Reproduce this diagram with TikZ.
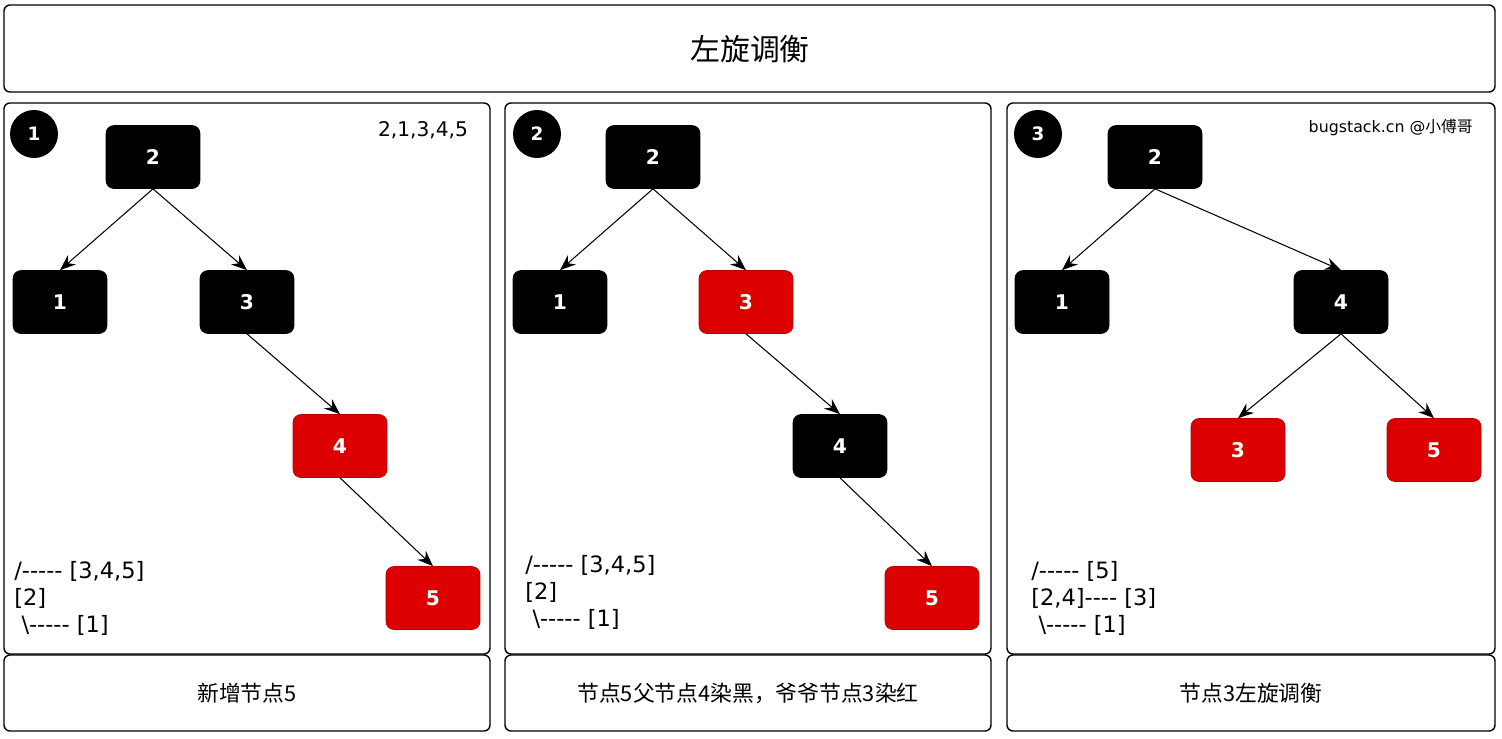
\documentclass[tikz,border=0pt]{standalone}
\usepackage{fontspec}
\setmainfont{DejaVu Sans}
\newfontfamily\cjk{Noto Sans CJK SC}
\usepackage{tikz}
\usetikzlibrary{arrows.meta,shapes,positioning}

\definecolor{redfill}{HTML}{DD0000}
\definecolor{redline}{HTML}{B20000}
\newcommand{\dsh}{-\kern0pt}

\tikzset{
  box/.style={draw=black,line width=0.8pt,rounded corners=0.12cm},
  blk/.style={draw=black,fill=black,text=white,rounded corners=0.16cm,
    minimum width=1.88cm,minimum height=1.26cm,inner sep=0pt,
    font=\bfseries\fontsize{11.5}{11.5}\selectfont},
  rd/.style={blk,draw=redline,fill=redfill},
  num/.style={circle,fill=black,text=white,minimum size=0.96cm,inner sep=0pt,
    font=\bfseries\fontsize{10.5}{10.5}\selectfont},
  tree/.style={anchor=north west,align=left,inner sep=0pt,
    font=\fontsize{12.8}{15.3}\selectfont},
  captext/.style={font=\cjk\fontsize{12.4}{12.4}\selectfont}
}

\begin{document}
\begin{tikzpicture}[x=0.02cm,y=-0.02cm]
  \useasboundingbox (0,0) rectangle (1502,738);

  % frames
  \draw[box] (4,5) rectangle (1495,92);
  \draw[box] (4,103) rectangle (490,654);
  \draw[box] (4,655) rectangle (490,731);
  \draw[box] (505,103) rectangle (991,654);
  \draw[box] (505,655) rectangle (991,731);
  \draw[box] (1007,103) rectangle (1495,654);
  \draw[box] (1007,655) rectangle (1495,731);

  \node[font=\cjk\fontsize{17}{17}\selectfont] (title) at (750,49) {左旋调衡};

  % step numbers
  \node[num] (n1) at (34,134) {1};
  \node[num] (n2) at (537,134) {2};
  \node[num] (n3) at (1038,134) {3};

  % step 1
  \begin{scope}[every node/.style={blk}]
    \node (a2) at (153,157) {2};
    \node (a1) at (60,302) {1};
    \node (a3) at (247,302) {3};
    \node[rd] (a4) at (340,446) {4};
    \node[rd] (a5) at (433,598) {5};
  \end{scope}

  % step 2
  \begin{scope}[every node/.style={blk}]
    \node (b2) at (653,157) {2};
    \node (b1) at (560,302) {1};
    \node[rd] (b3) at (746,302) {3};
    \node (b4) at (840,446) {4};
    \node[rd] (b5) at (932,598) {5};
  \end{scope}

  % step 3
  \begin{scope}[every node/.style={blk}]
    \node (c2) at (1155,157) {2};
    \node (c1) at (1062,302) {1};
    \node (c4) at (1341,302) {4};
    \node[rd] (c3) at (1238,450) {3};
    \node[rd] (c5) at (1434,450) {5};
  \end{scope}

  \begin{scope}[every edge/.style={draw=black,line width=0.6pt,-{Stealth[length=9pt,width=7pt,inset=3pt]}}]
    \path (a2.south) edge (a1.north);
    \path (a2.south) edge (a3.north);
    \path (a3.south) edge (a4.north);
    \path (a4.south) edge (a5.north);
    \path (b2.south) edge (b1.north);
    \path (b2.south) edge (b3.north);
    \path (b3.south) edge (b4.north);
    \path (b4.south) edge (b5.north);
    \path (c2.south) edge (c1.north);
    \path (c2.south) edge (c4.north);
    \path (c4.south) edge (c3.north);
    \path (c4.south) edge (c5.north);
  \end{scope}

  % texts
  \node[font=\fontsize{11.5}{11.5}\selectfont] (seq) at (423,130) {2,1,3,4,5};
  \node[anchor=east,font=\fontsize{9}{9}\selectfont] (mark) at (1479,128) {bugstack.cn @{\cjk 小傅哥}};

  \node[tree] (t1) at (14,561) {/\dsh\dsh\dsh\dsh\dsh{} [3,4,5]\\{}[2]\\ \ \textbackslash\dsh\dsh\dsh\dsh\dsh{} [1]};
  \node[tree] (t2) at (525,555) {/\dsh\dsh\dsh\dsh\dsh{} [3,4,5]\\{}[2]\\ \ \textbackslash\dsh\dsh\dsh\dsh\dsh{} [1]};
  \node[tree] (t3) at (1031,561) {/\dsh\dsh\dsh\dsh\dsh{} [5]\\{}[2,4]\dsh\dsh\dsh\dsh{} [3]\\ \ \textbackslash\dsh\dsh\dsh\dsh\dsh{} [1]};

  \node[captext] (s1) at (247,693) {新增节点5};
  \node[captext] (s2) at (748,693) {节点5父节点4染黑，爷爷节点3染红};
  \node[captext] (s3) at (1251,693) {节点3左旋调衡};
\end{tikzpicture}
\end{document}
